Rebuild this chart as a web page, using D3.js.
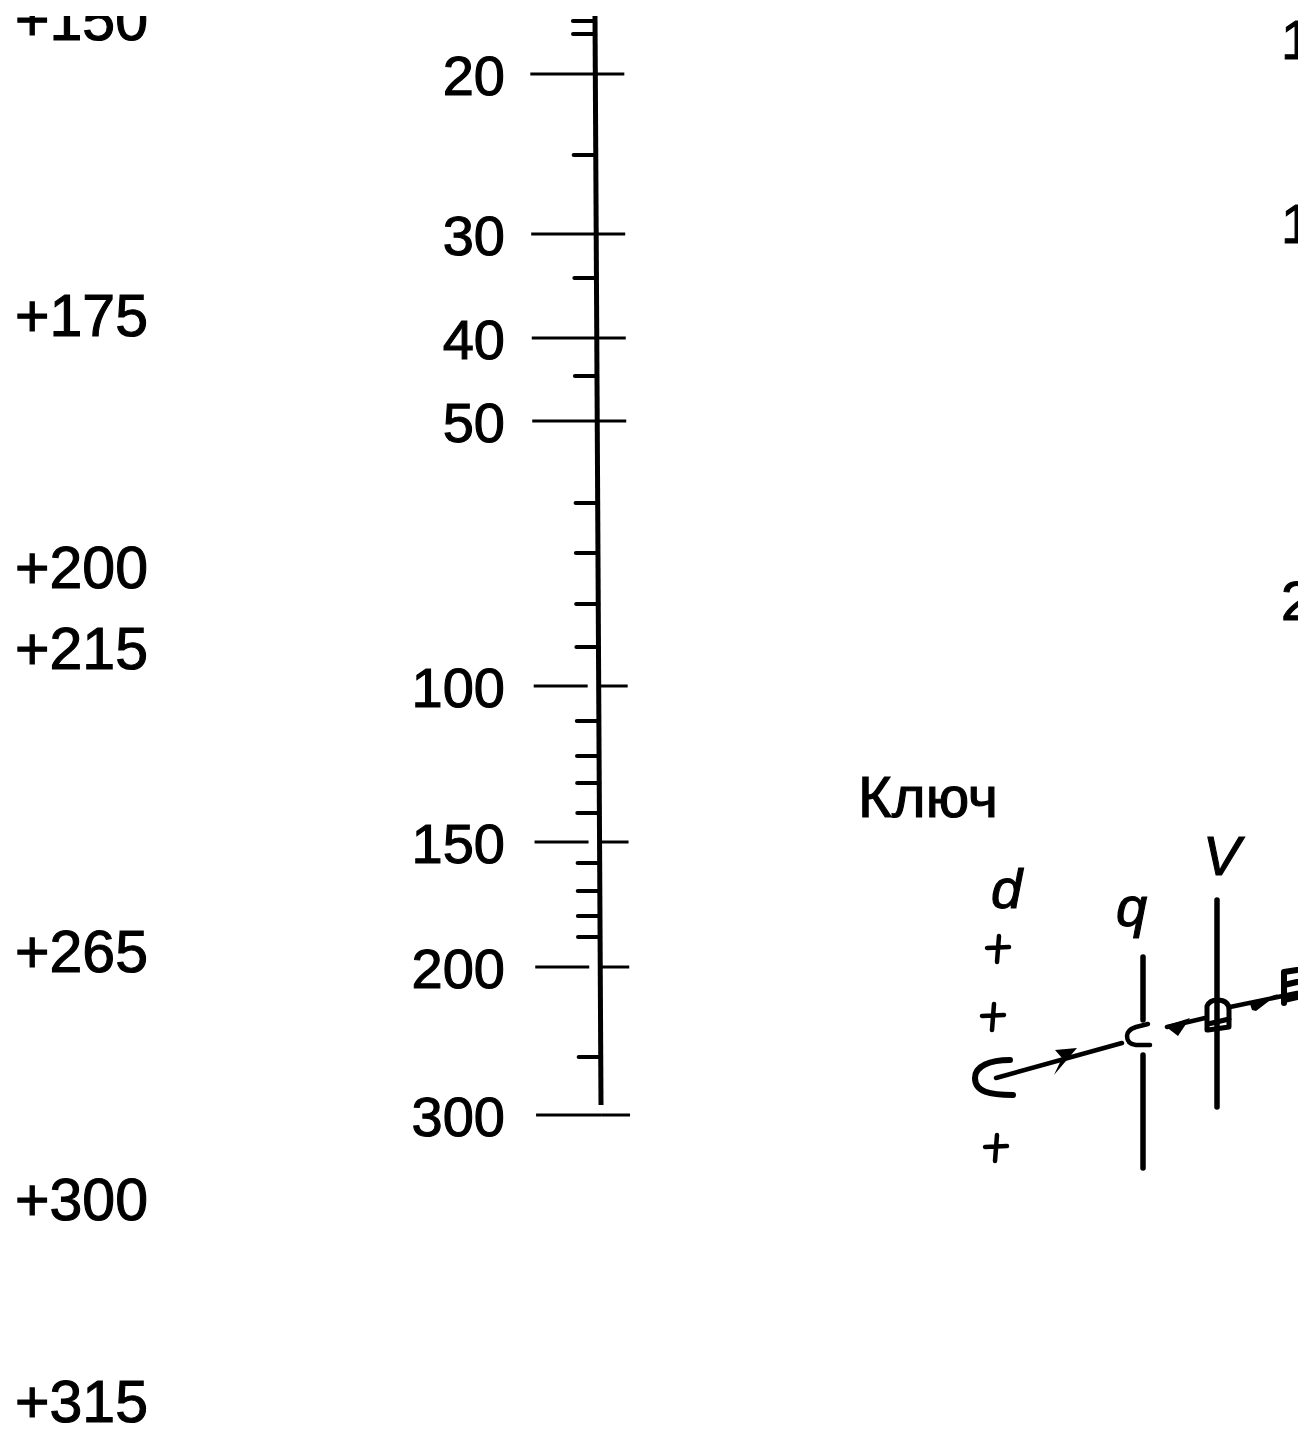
<!DOCTYPE html>
<html><head><meta charset="utf-8">
<script src="https://d3js.org/d3.v7.min.js"></script>
<style>html,body{margin:0;padding:0;background:#fff}svg{display:block}text{font-family:"Liberation Sans",Arial,sans-serif;fill:#000;stroke:#000;stroke-width:1.1px}</style>
</head><body><div id="c"></div>
<script>
const majorValues=[20,30,40,50,100,150,200,300];
const minorValues=[17,18,25,35,45,60,70,80,90,110,120,130,140,160,170,180,190,250];
const leftValues=[150,175,200,215,265,300,315];
const rightLabels=["1","1","2"];
const keyTitle="Ключ";

const W=1315,H=1429;
const svg=d3.select("#c").append("svg").attr("width",W).attr("height",H);
svg.append("defs").append("clipPath").attr("id","pg").append("rect").attr("x",0).attr("y",16).attr("width",1298).attr("height",H-16);
const g=svg.append("g").attr("clip-path","url(#pg)");

// nomogram scale: nearly logarithmic, calibrated piecewise from the picture
const y=d3.scaleLog().domain([17,18,20,25,30,35,40,45,50,60,70,80,90,100,110,120,130,140,150,160,170,180,190,200,250,300])
  .range([21,34,74,155,234,278,338,376,421,503,553,604,647,686,721,756,783,813,842,863,891,916,937,967,1057,1115]);
// printed axis leans slightly
const lean=d3.scaleLinear().domain([16,1105]).range([595,601]);
const yLeft=d3.scaleLinear().domain([150,175,200,215,265,300,315]).range([40,336,588,669,972,1220,1422]);
const gapped=new Set([100,150,200]);

g.selectAll("text.left").data(leftValues).join("text").attr("class","left")
 .attr("x",148).attr("y",d=>yLeft(d)).attr("text-anchor","end").attr("font-size",59)
 .text(d=>"+"+d);

g.append("line").attr("x1",lean(16)).attr("y1",16).attr("x2",lean(1105)).attr("y2",1105)
 .attr("stroke","#000").attr("stroke-width",5);

g.selectAll("line.majorL").data(majorValues).join("line").attr("class","majorL")
 .attr("x1",d=>lean(y(d))-65).attr("x2",d=>lean(y(d))-(gapped.has(d)?11:0))
 .attr("y1",d=>y(d)).attr("y2",d=>y(d))
 .attr("stroke","#000").attr("stroke-width",3.2);
g.selectAll("line.majorR").data(majorValues).join("line").attr("class","majorR")
 .attr("x1",d=>lean(y(d))).attr("x2",d=>lean(y(d))+29)
 .attr("y1",d=>y(d)).attr("y2",d=>y(d))
 .attr("stroke","#000").attr("stroke-width",3);
g.selectAll("line.minor").data(minorValues).join("line").attr("class","minor")
 .attr("x1",d=>lean(y(d))-22).attr("x2",d=>lean(y(d)))
 .attr("y1",d=>y(d)).attr("y2",d=>y(d))
 .attr("stroke","#000").attr("stroke-width",4.2).attr("stroke-linecap","round");
g.selectAll("text.major").data(majorValues).join("text").attr("class","major")
 .attr("x",505).attr("y",d=>y(d)+21).attr("text-anchor","end").attr("font-size",56)
 .text(d=>d);

// truncated right column
const rightY=[59,243,620];
g.selectAll("text.right").data(rightLabels).join("text").attr("class","right")
 .attr("x",1281).attr("y",(d,i)=>rightY[i]).attr("font-size",56).text(d=>d);

// key
g.append("text").attr("x",858).attr("y",817).attr("font-size",58).text(keyTitle);
const it=[["d",991,908],["q",1116,926],["V",1203,875]];
g.selectAll("text.sym").data(it).join("text").attr("class","sym")
 .attr("x",d=>d[1]).attr("y",d=>d[2]).attr("font-size",56).attr("font-style","italic").text(d=>d[0]);
const ink=(d,w)=>g.append("path").attr("d",d).attr("fill","none").attr("stroke","#000").attr("stroke-width",w).attr("stroke-linecap","round").attr("stroke-linejoin","round");
[[998,948],[993,1016],[996,1147]].forEach(p=>{
  ink(`M${p[0]-11},${p[1]}L${p[0]+11},${p[1]-1}M${p[0]+1},${p[1]-12}L${p[0]-1},${p[1]+14}`,4.5);
});
ink("M1143,957L1143,1020M1143,1055L1143,1168",5.5);
ink("M1217,900L1217,1107",5.5);
ink("M1148,1024L1136,1027Q1127,1030 1127,1036Q1127,1044 1136,1045L1150,1045",4.5);
ink("M1010,1060C990,1060 975,1066 975,1078C975,1092 990,1095 1013,1095",6);
ink("M996,1078L1122,1043",4.5);
ink("M1167,1027L1205,1018",4.5);
ink("M1230,1007L1297,993",4.5);
ink("M1207,1030L1207,1006Q1210,1000 1217,1000Q1229,1000 1229,1010L1229,1027L1208,1030",5);
ink("M1208,1024L1229,1019",5);
ink("M1284,972L1284,1003M1284,1000L1297,997M1284,985L1297,982M1284,972L1297,970",6);
const arrow=(pts)=>g.append("path").attr("d",d3.line()(pts)+"Z").attr("fill","#000");
arrow([[1077,1048],[1055,1050],[1062,1058],[1054,1075]]);
arrow([[1165,1026],[1190,1018],[1178,1036]]);
arrow([[1250,1004],[1278,994],[1256,1011],[1252,1010]]);
</script></body></html>
